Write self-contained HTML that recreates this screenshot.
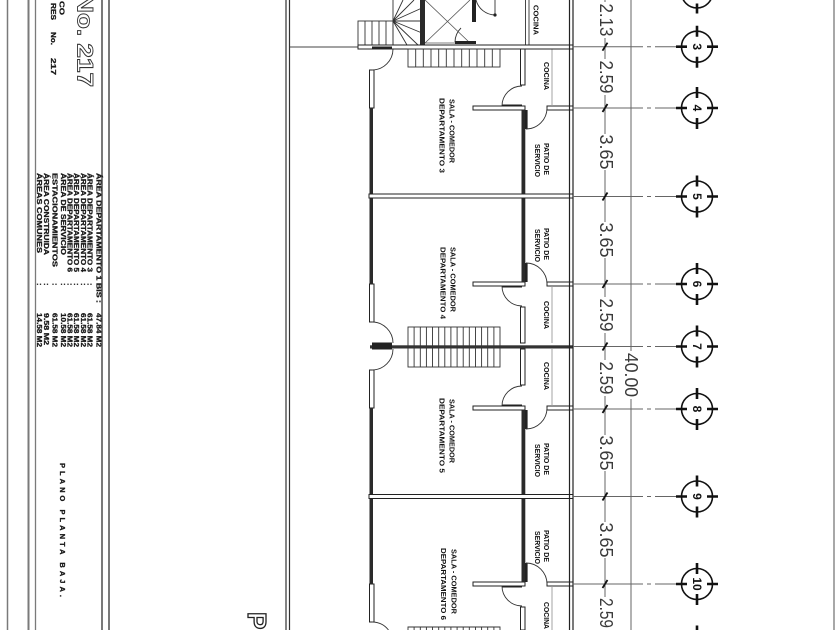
<!DOCTYPE html>
<html><head><meta charset="utf-8">
<style>
html,body{margin:0;padding:0;background:#fff;width:840px;height:630px;overflow:hidden;}
svg{display:block;overflow:hidden;}
text{font-family:"Liberation Sans",sans-serif;}
</style></head>
<body>
<svg width="840" height="630" viewBox="0 0 840 630" xmlns="http://www.w3.org/2000/svg">
<rect width="840" height="630" fill="#fff"/>

<!-- title block frame -->
<g stroke="#7a7a7a" fill="none">
<line x1="7.5" y1="0" x2="7.5" y2="630" stroke-width="1.5"/>
<line x1="28.5" y1="0" x2="28.5" y2="630" stroke-width="2"/>
<line x1="35.5" y1="0" x2="35.5" y2="630" stroke-width="1.3"/>
<line x1="102" y1="0" x2="102" y2="630" stroke-width="2"/>
<line x1="109" y1="0" x2="109" y2="630" stroke-width="2"/>
<line x1="834" y1="0" x2="834" y2="630" stroke-width="1.3"/>
</g>
<g stroke="#333" fill="none" stroke-width="1.2">
<line x1="286" y1="0" x2="286" y2="630"/>
<line x1="289.5" y1="0" x2="289.5" y2="630"/>
</g>

<!-- title texts -->
<text transform="translate(85,-6) rotate(90)" dominant-baseline="central" font-size="22" font-weight="bold" textLength="93" lengthAdjust="spacingAndGlyphs" fill="none" stroke="#333" stroke-width="0.9">No. 217</text>
<g font-weight="bold" fill="#1a1a1a" stroke="#1a1a1a" stroke-width="0.3" dominant-baseline="central">
<text transform="translate(62,1) rotate(90)" font-size="7.5" textLength="14" lengthAdjust="spacingAndGlyphs">CO</text>
<text transform="translate(52.5,3) rotate(90)" font-size="7" textLength="17" lengthAdjust="spacingAndGlyphs">RES</text>
<text transform="translate(52.5,32) rotate(90)" font-size="7" textLength="13" lengthAdjust="spacingAndGlyphs">No.</text>
<text transform="translate(52.5,58) rotate(90)" font-size="7" textLength="17" lengthAdjust="spacingAndGlyphs">217</text>
</g>

<!-- area table -->
<g font-weight="bold" fill="#1a1a1a" stroke="#1a1a1a" stroke-width="0.3" font-size="7.5" dominant-baseline="central">
<text transform="translate(99,173) rotate(90)" textLength="130" lengthAdjust="spacingAndGlyphs">ÁREA DEPARTAMENTO 1 BIS :</text>
<text transform="translate(99,313) rotate(90)" textLength="34" lengthAdjust="spacingAndGlyphs">47.84 M2</text>

<text transform="translate(90,173) rotate(90)" textLength="99" lengthAdjust="spacingAndGlyphs">ÁREA DEPARTAMENTO 3</text>
<text transform="translate(90,283) rotate(90)">:</text>
<text transform="translate(90,313) rotate(90)" textLength="34" lengthAdjust="spacingAndGlyphs">61.58 M2</text>

<text transform="translate(83.3,173) rotate(90)" textLength="99" lengthAdjust="spacingAndGlyphs">ÁREA DEPARTAMENTO 4</text>
<text transform="translate(83.3,283) rotate(90)">:</text>
<text transform="translate(83.3,313) rotate(90)" textLength="34" lengthAdjust="spacingAndGlyphs">61.58 M2</text>

<text transform="translate(76.7,173) rotate(90)" textLength="99" lengthAdjust="spacingAndGlyphs">ÁREA DEPARTAMENTO 5</text>
<text transform="translate(76.7,283) rotate(90)">:</text>
<text transform="translate(76.7,313) rotate(90)" textLength="34" lengthAdjust="spacingAndGlyphs">61.58 M2</text>

<text transform="translate(70,173) rotate(90)" textLength="99" lengthAdjust="spacingAndGlyphs">ÁREA DEPARTAMENTO 6</text>
<text transform="translate(70,283) rotate(90)">:</text>
<text transform="translate(70,313) rotate(90)" textLength="34" lengthAdjust="spacingAndGlyphs">61.58 M2</text>

<text transform="translate(63.3,173) rotate(90)" textLength="82" lengthAdjust="spacingAndGlyphs">ÁREA DE SERVICIO</text>
<text transform="translate(63.3,283) rotate(90)">:</text>
<text transform="translate(63.3,313) rotate(90)" textLength="34" lengthAdjust="spacingAndGlyphs">10.58 M2</text>

<text transform="translate(55,173) rotate(90)" textLength="94" lengthAdjust="spacingAndGlyphs">ESTACIONAMIENTOS</text>
<text transform="translate(55,283) rotate(90)">:</text>
<text transform="translate(55,313) rotate(90)" textLength="34" lengthAdjust="spacingAndGlyphs">61.58 M2</text>

<text transform="translate(46.7,173) rotate(90)" textLength="82" lengthAdjust="spacingAndGlyphs">ÁREA CONSTRUIDA</text>
<text transform="translate(46.7,283) rotate(90)">:</text>
<text transform="translate(46.7,313) rotate(90)" textLength="32" lengthAdjust="spacingAndGlyphs">9.58 M2</text>

<text transform="translate(39.3,173) rotate(90)" textLength="80" lengthAdjust="spacingAndGlyphs">ÁREAS COMUNES</text>
<text transform="translate(39.3,283) rotate(90)">:</text>
<text transform="translate(39.3,313) rotate(90)" textLength="34" lengthAdjust="spacingAndGlyphs">14.58 M2</text>

<text transform="translate(62.5,463) rotate(90)" textLength="134" lengthAdjust="spacing">PLANO PLANTA BAJA.</text>
</g>

<!-- big P -->
<text transform="translate(257,612) rotate(90)" dominant-baseline="central" font-size="26" font-weight="bold" fill="none" stroke="#222" stroke-width="1.3">P</text>

<!-- top section -->
<line x1="290" y1="47" x2="358" y2="47" stroke="#444" stroke-width="1"/>
<g fill="none" stroke="#333" stroke-width="0.9">
<rect x="358" y="21" width="35" height="24"/>
<path d="M365,21V45M372,21V45M379,21V45M386,21V45"/>
<rect x="393" y="-1" width="29" height="46"/>
<path d="M393,21L403,0M393,21L414,0M393,21L422,8M393,21H422M393,21L422,33M393,21L418,45M393,21L407,45"/>
<path d="M425,43H470M425,0L470,43M425,43L470,0" stroke="#555" stroke-width="0.8"/>
<path d="M455,42A20,20 0 0 1 461,28"/>
<path d="M476,0A20,20 0 0 0 495,15"/>
<line x1="495" y1="0" x2="495" y2="15"/>
<rect x="525.5" y="-2" width="3.5" height="47" fill="#fff"/>
</g>
<circle cx="495" cy="15" r="1.6" fill="#222"/>
<rect x="420" y="0" width="5" height="45" fill="#2a2a2a"/>
<rect x="472" y="0" width="4" height="22" fill="#222"/>
<rect x="455" y="41" width="21" height="3" fill="#222"/>

<!-- unit template -->
<defs>
<g id="u">
 <rect x="369.5" y="70" width="4.5" height="38" fill="#fff" stroke="#222" stroke-width="1"/>
 <rect x="369.5" y="108" width="3.5" height="88" fill="#2a2a2a"/>
 <rect x="372" y="46.5" width="20" height="3" fill="#222"/>
 <path d="M372,70A21,21 0 0 0 393,49" fill="none" stroke="#333" stroke-width="0.9"/>
 <rect x="520.5" y="49" width="4.5" height="36" fill="#fff" stroke="#222" stroke-width="1"/>
 <rect x="502" y="104.5" width="20" height="2.6" fill="#222"/>
 <path d="M502,106A20,20 0 0 1 522,86" fill="none" stroke="#333" stroke-width="0.9"/>
 <rect x="473" y="106" width="52" height="4" fill="#fff" stroke="#222" stroke-width="1"/>
 <rect x="547" y="106" width="26" height="4" fill="#fff" stroke="#222" stroke-width="1"/>
 <rect x="521.5" y="110" width="3.8" height="86" fill="#2a2a2a"/>
 <rect x="525" y="110" width="2.6" height="19" fill="#222"/>
 <path d="M526,129A21,21 0 0 0 547,108" fill="none" stroke="#333" stroke-width="0.9"/>
 <line x1="552" y1="49" x2="552" y2="106" stroke="#999" stroke-width="0.9"/>
</g>
</defs>
<use href="#u"/>
<use href="#u" transform="translate(0,392) scale(1,-1)"/>
<use href="#u" transform="translate(0,300)"/>

<!-- unit 6 (mirrored, truncated at bottom edge) -->
<g>
 <rect x="369.5" y="584" width="4.5" height="38" fill="#fff" stroke="#222" stroke-width="1"/>
 <rect x="369.5" y="496" width="3.5" height="88" fill="#2a2a2a"/>
 <path d="M372,622A21,21 0 0 1 388.5,630" fill="none" stroke="#333" stroke-width="0.9"/>
 <rect x="520.5" y="607" width="4.5" height="23" fill="#fff" stroke="#222" stroke-width="1"/>
 <rect x="502" y="584.9" width="20" height="2.6" fill="#222"/>
 <path d="M502,586A20,20 0 0 0 522,606" fill="none" stroke="#333" stroke-width="0.9"/>
 <rect x="473" y="582" width="52" height="4" fill="#fff" stroke="#222" stroke-width="1"/>
 <rect x="547" y="582" width="26" height="4" fill="#fff" stroke="#222" stroke-width="1"/>
 <rect x="521.5" y="496" width="3.8" height="86" fill="#2a2a2a"/>
 <rect x="525" y="563" width="2.6" height="19" fill="#222"/>
 <path d="M526,563A21,21 0 0 1 547,584" fill="none" stroke="#333" stroke-width="0.9"/>
 <line x1="552" y1="586" x2="552" y2="630" stroke="#999" stroke-width="0.9"/>
</g>

<!-- horizontal walls -->
<g stroke="#222" stroke-width="1">
<rect x="358" y="45" width="215" height="4" fill="#fff"/>
<rect x="369" y="194" width="204" height="4" fill="#fff"/>
<rect x="369" y="494.5" width="204" height="4" fill="#fff"/>
</g>
<rect x="372" y="46.5" width="20" height="3" fill="#222"/>

<!-- stairs -->
<g fill="none" stroke="#333" stroke-width="0.9">
<rect x="408" y="49" width="92" height="18"/>
<path d="M415.7,49V67M423.3,49V67M431,49V67M438.7,49V67M446.3,49V67M454,49V67M461.7,49V67M469.3,49V67M477,49V67M484.7,49V67M492.3,49V67"/>
<rect x="408" y="327" width="92" height="40"/>
<path d="M414.1,327V367M420.3,327V367M426.4,327V367M432.5,327V367M438.7,327V367M444.8,327V367M450.9,327V367M457.1,327V367M463.2,327V367M469.3,327V367M475.5,327V367M481.6,327V367M487.7,327V367M493.9,327V367"/>
<path d="M408,630V627H500V630M414.1,627V630M420.3,627V630M426.4,627V630M432.5,627V630M438.7,627V630M444.8,627V630M450.9,627V630M457.1,627V630M463.2,627V630M469.3,627V630M475.5,627V630M481.6,627V630M487.7,627V630M493.9,627V630"/>
</g>
<rect x="370" y="345.3" width="203" height="3.2" fill="#333"/>
<rect x="372" y="342.5" width="20" height="7" fill="#222"/>

<!-- exterior right wall -->
<g stroke="#222" stroke-width="1.2">
<line x1="569.5" y1="0" x2="569.5" y2="630"/>
<line x1="573" y1="0" x2="573" y2="630"/>
</g>

<!-- room labels -->
<g font-weight="bold" fill="#111" font-size="7.5" dominant-baseline="central">
<text transform="translate(536,5) rotate(90)" textLength="30" lengthAdjust="spacingAndGlyphs">COCINA</text>

<text transform="translate(452,99) rotate(90)" textLength="64" lengthAdjust="spacingAndGlyphs">SALA - COMEDOR</text>
<text transform="translate(442,98) rotate(90)" textLength="75" lengthAdjust="spacingAndGlyphs">DEPARTAMENTO 3</text>
<text transform="translate(546.5,62) rotate(90)" textLength="28" lengthAdjust="spacingAndGlyphs">COCINA</text>
<text transform="translate(546.5,143) rotate(90)" textLength="32" lengthAdjust="spacingAndGlyphs">PATIO DE</text>
<text transform="translate(537.5,144) rotate(90)" textLength="33" lengthAdjust="spacingAndGlyphs">SERVICIO</text>

<text transform="translate(453,247) rotate(90)" textLength="65" lengthAdjust="spacingAndGlyphs">SALA - COMEDOR</text>
<text transform="translate(443,247) rotate(90)" textLength="72" lengthAdjust="spacingAndGlyphs">DEPARTAMENTO 4</text>
<text transform="translate(546.5,301) rotate(90)" textLength="28" lengthAdjust="spacingAndGlyphs">COCINA</text>
<text transform="translate(546.5,228) rotate(90)" textLength="32" lengthAdjust="spacingAndGlyphs">PATIO DE</text>
<text transform="translate(537.5,229) rotate(90)" textLength="33" lengthAdjust="spacingAndGlyphs">SERVICIO</text>

<text transform="translate(452,399) rotate(90)" textLength="64" lengthAdjust="spacingAndGlyphs">SALA - COMEDOR</text>
<text transform="translate(442,398) rotate(90)" textLength="75" lengthAdjust="spacingAndGlyphs">DEPARTAMENTO 5</text>
<text transform="translate(546.5,362) rotate(90)" textLength="28" lengthAdjust="spacingAndGlyphs">COCINA</text>
<text transform="translate(546.5,443) rotate(90)" textLength="32" lengthAdjust="spacingAndGlyphs">PATIO DE</text>
<text transform="translate(537.5,444) rotate(90)" textLength="33" lengthAdjust="spacingAndGlyphs">SERVICIO</text>

<text transform="translate(454,549) rotate(90)" textLength="65" lengthAdjust="spacingAndGlyphs">SALA - COMEDOR</text>
<text transform="translate(443.5,548) rotate(90)" textLength="72" lengthAdjust="spacingAndGlyphs">DEPARTAMENTO 6</text>
<text transform="translate(546.5,602) rotate(90)" textLength="27" lengthAdjust="spacingAndGlyphs">COCINA</text>
<text transform="translate(546.5,530) rotate(90)" textLength="32" lengthAdjust="spacingAndGlyphs">PATIO DE</text>
<text transform="translate(537.5,531) rotate(90)" textLength="33" lengthAdjust="spacingAndGlyphs">SERVICIO</text>
</g>

<!-- dimension lines -->
<g stroke="#666" stroke-width="1" fill="none">
<line x1="605" y1="0" x2="605" y2="630"/>
<line x1="631" y1="0" x2="631" y2="630"/>
<path d="M573,46.7H643M647,46.7H651M655,46.7H676
M573,108H643M647,108H651M655,108H676
M573,196.5H643M647,196.5H651M655,196.5H676
M573,284H643M647,284H651M655,284H676
M573,346.5H643M647,346.5H651M655,346.5H676
M573,409H643M647,409H651M655,409H676
M573,496.5H643M647,496.5H651M655,496.5H676
M573,584H643M647,584H651M655,584H676"/>
</g>
<g stroke="#111" stroke-width="1.8">
<path d="M602.5,50.7L607.5,42.7M602.5,112L607.5,104M602.5,200.5L607.5,192.5M602.5,288L607.5,280M602.5,350.5L607.5,342.5M602.5,413L607.5,405M602.5,500.5L607.5,492.5M602.5,588L607.5,580"/>
</g>

<!-- dimension text backgrounds -->
<g fill="#fff">
<rect x="598" y="2" width="15" height="36"/>
<rect x="598" y="59" width="15" height="36"/>
<rect x="598" y="134" width="15" height="36"/>
<rect x="598" y="222" width="15" height="36"/>
<rect x="598" y="297" width="15" height="36"/>
<rect x="598" y="360" width="15" height="36"/>
<rect x="598" y="435" width="15" height="36"/>
<rect x="598" y="522" width="15" height="36"/>
<rect x="598" y="597" width="15" height="33"/>
<rect x="624" y="351" width="14" height="48"/>
</g>
<g fill="#3a3a3a" font-size="18" text-anchor="middle" dominant-baseline="central">
<text transform="translate(606,20) rotate(90)" textLength="33" lengthAdjust="spacingAndGlyphs">2.13</text>
<text transform="translate(606,77) rotate(90)" textLength="33" lengthAdjust="spacingAndGlyphs">2.59</text>
<text transform="translate(606,152) rotate(90)" textLength="35" lengthAdjust="spacingAndGlyphs">3.65</text>
<text transform="translate(606,240) rotate(90)" textLength="35" lengthAdjust="spacingAndGlyphs">3.65</text>
<text transform="translate(606,315) rotate(90)" textLength="33" lengthAdjust="spacingAndGlyphs">2.59</text>
<text transform="translate(606,378) rotate(90)" textLength="33" lengthAdjust="spacingAndGlyphs">2.59</text>
<text transform="translate(606,453) rotate(90)" textLength="35" lengthAdjust="spacingAndGlyphs">3.65</text>
<text transform="translate(606,540) rotate(90)" textLength="35" lengthAdjust="spacingAndGlyphs">3.65</text>
<text transform="translate(606,613) rotate(90)" textLength="30" lengthAdjust="spacingAndGlyphs">2.59</text>
<text transform="translate(631,375) rotate(90)" textLength="44" lengthAdjust="spacingAndGlyphs">40.00</text>
</g>

<!-- axis markers -->
<g fill="none" stroke="#111">
<g stroke-width="1.6">
<circle cx="697" cy="-7.5" r="15.5"/>
<circle cx="697" cy="46.7" r="15.5"/>
<circle cx="697" cy="108" r="15.5"/>
<circle cx="697" cy="196.5" r="15.5"/>
<circle cx="697" cy="284" r="15.5"/>
<circle cx="697" cy="346.5" r="15.5"/>
<circle cx="697" cy="409" r="15.5"/>
<circle cx="697" cy="496.5" r="15.5"/>
<circle cx="697" cy="584" r="15.5"/>
</g>
<path stroke-width="2.6" d="
M676,-7.5H687M707,-7.5H718M697,3.5V13.5
M676,46.7H687M707,46.7H718M697,25.7V36.7M697,56.7V67.7
M676,108H687M707,108H718M697,87V98M697,118V129
M676,196.5H687M707,196.5H718M697,175.5V186.5M697,206.5V217.5
M676,284H687M707,284H718M697,263V274M697,294V305
M676,346.5H687M707,346.5H718M697,325.5V336.5M697,356.5V367.5
M676,409H687M707,409H718M697,388V399M697,419V430
M676,496.5H687M707,496.5H718M697,475.5V486.5M697,506.5V517.5
M676,584H687M707,584H718M697,563V574M697,594V605
M697,625.5V630"/>
</g>
<g font-weight="bold" fill="#111" font-size="12" text-anchor="middle" dominant-baseline="central">
<text transform="translate(697,46.7) rotate(90)">3</text>
<text transform="translate(697,108) rotate(90)">4</text>
<text transform="translate(697,196.5) rotate(90)">5</text>
<text transform="translate(697,284) rotate(90)">6</text>
<text transform="translate(697,346.5) rotate(90)">7</text>
<text transform="translate(697,409) rotate(90)">8</text>
<text transform="translate(697,496.5) rotate(90)">9</text>
<text transform="translate(697,584) rotate(90)">10</text>
</g>
</svg>
</body>
</html>
